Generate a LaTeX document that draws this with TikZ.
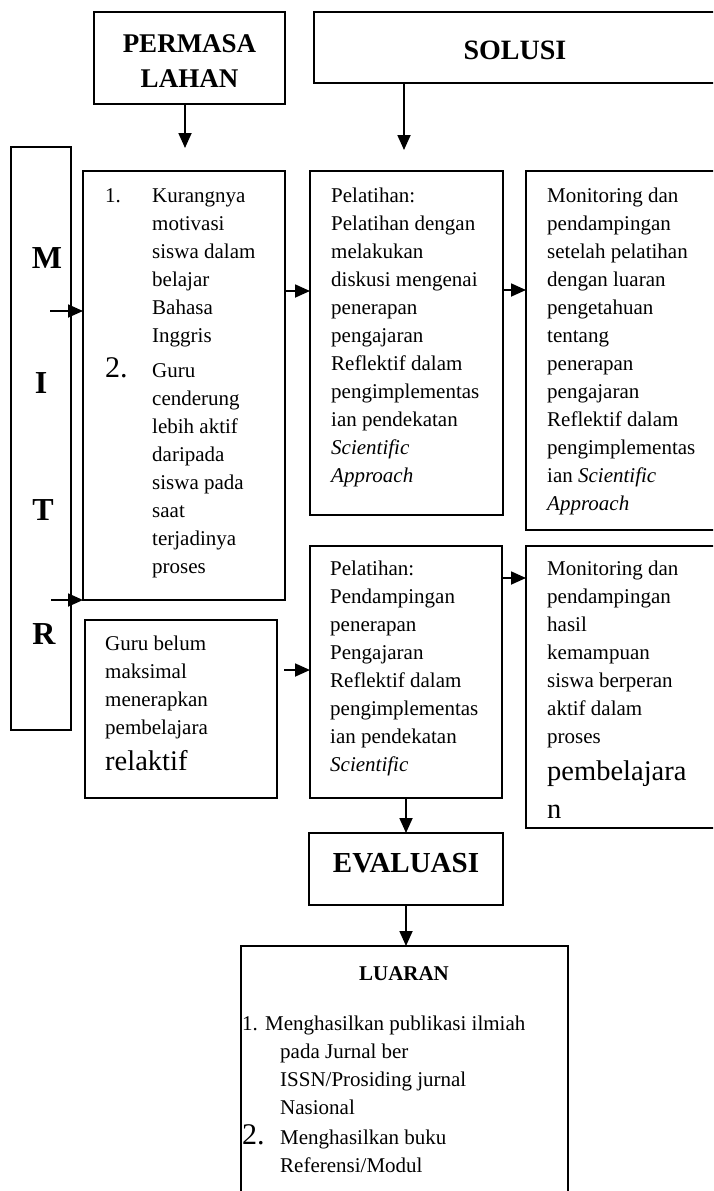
\documentclass[tikz,border=0pt]{standalone}
\usepackage{fontspec}
\setmainfont{Liberation Serif}
\usetikzlibrary{arrows.meta}

\newcommand{\lns}[1]{\parbox[t]{320pt}{\fontsize{21}{28}\selectfont #1}}
\newcommand{\bigsz}{\fontsize{28.5}{28}\selectfont}

\tikzset{
  kotak/.style={draw, line width=1.4pt, inner sep=0pt, outer sep=0pt, anchor=north west},
  panah/.style={-{Triangle[length=15pt,width=13pt]}, line width=1.8pt},
  teks/.style={anchor=base west, inner sep=0pt},
  judul/.style={anchor=base, inner sep=0pt, font=\bfseries\fontsize{28}{35}\selectfont},
}

\begin{document}
\begin{tikzpicture}[x=1pt,y=-1pt]
    \useasboundingbox (0,0) rectangle (713,1191);
    \clip (0,0) rectangle (713,1191);

    % judul
    \node[kotak, minimum width=191pt, minimum height=92pt] (perm) at (94,12) {};
    \node[kotak, minimum width=402pt, minimum height=71pt] (solusi) at (314,12) {};
    \node[judul] (tperm) at (189.5,52)
    {\parbox[t]{190pt}{\centering\bfseries\fontsize{27}{35}\selectfont PERMASA\\LAHAN}};
    \node[judul] (tsolusi) at (515,59) {SOLUSI};
    \coordinate (ujung1) at (185,148);
    \coordinate (ujung2) at (404,150);
    \draw[panah] (perm.south -| ujung1) -- (ujung1);
    \draw[panah] (solusi.south -| ujung2) -- (ujung2);

    % mitra
    \node[kotak, minimum width=60pt, minimum height=583pt] (mitra) at (11,147) {};
    \foreach \h/\xx/\yy in {M/47/268, I/41/393, T/43/520, R/44/644}
        \node[anchor=base, inner sep=0pt, font=\bfseries\fontsize{32}{32}\selectfont] (h\h) at (\xx,\yy) {\h};

    % permasalahan
    \node[kotak, minimum width=202pt, minimum height=429pt] (masalah1) at (83,171) {};
    \node[teks] (n1) at (105,202) {\fontsize{21}{28}\selectfont 1.};
    \node[teks] (tm1) at (152,202) {\lns{Kurangnya\\motivasi\\siswa dalam\\belajar\\Bahasa\\Inggris}};
    \node[teks] (n2) at (105,377) {\fontsize{30}{30}\selectfont 2.};
    \node[teks] (tm2) at (152,377) {\lns{Guru\\cenderung\\lebih aktif\\daripada\\siswa pada\\saat\\terjadinya\\proses}};

    \node[kotak, minimum width=192pt, minimum height=178pt] (masalah2) at (85,620) {};
    \node[teks] (tm3) at (105,650) {\lns{Guru belum\\maksimal\\menerapkan\\pembelajara\\[8pt]\bigsz relaktif}};

    % solusi
    \node[kotak, minimum width=193pt, minimum height=344pt] (latih1) at (310,171) {};
    \node[teks] (tl1) at (331,202) {\lns{Pelatihan:\\Pelatihan dengan\\melakukan\\diskusi mengenai\\penerapan\\pengajaran\\Reflektif dalam\\pengimplementas\\ian pendekatan\\\textit{Scientific}\\\textit{Approach}}};

    \node[kotak, minimum width=190pt, minimum height=359pt] (monitor1) at (526,171) {};
    \node[teks] (tmo1) at (547,202) {\lns{Monitoring dan\\pendampingan\\setelah pelatihan\\dengan luaran\\pengetahuan\\tentang\\penerapan\\pengajaran\\Reflektif dalam\\pengimplementas\\ian \textit{Scientific}\\\textit{Approach}}};

    \node[kotak, minimum width=192pt, minimum height=252pt] (latih2) at (310,546) {};
    \node[teks] (tl2) at (330,575) {\lns{Pelatihan:\\Pendampingan\\penerapan\\Pengajaran\\Reflektif dalam\\pengimplementas\\ian pendekatan\\\textit{Scientific}}};

    \node[kotak, minimum width=190pt, minimum height=282pt] (monitor2) at (526,546) {};
    \node[teks] (tmo2) at (547,575) {\lns{Monitoring dan\\pendampingan\\hasil\\kemampuan\\siswa berperan\\aktif dalam\\proses\\[9pt]\bigsz pembelajara\\[10pt]n}};

    % evaluasi dan luaran
    \node[kotak, minimum width=194pt, minimum height=72pt] (evaluasi) at (309,833) {};
    \node[judul, font=\bfseries\fontsize{29}{29}\selectfont] (tev) at (406,872) {EVALUASI};

    \node[kotak, minimum width=327pt, minimum height=260pt] (luaran) at (241,946) {};
    \node[anchor=base, inner sep=0pt, font=\bfseries\fontsize{21}{21}\selectfont] (tlu) at (404,980) {LUARAN};
    \node[teks] (n3) at (242,1030) {\fontsize{21}{28}\selectfont 1.};
    \node[teks] (tlu1) at (265,1030) {\lns{Menghasilkan publikasi ilmiah}};
    \node[teks] (tlu2) at (280,1058) {\lns{pada Jurnal ber\\ISSN/Prosiding jurnal\\Nasional}};
    \node[teks] (n4) at (242,1144) {\fontsize{30}{30}\selectfont 2.};
    \node[teks] (tlu3) at (280,1144) {\lns{Menghasilkan buku\\Referensi/Modul}};

    % panah
    \coordinate (m1) at (50,311);
    \coordinate (m2) at (51,600);
    \coordinate (m3) at (284,670);
    \draw[panah] (m1) -- (m1 -| masalah1.west);
    \draw[panah] (m2) -- (m2 -| masalah1.west);
    \draw[panah] (masalah1.east |- 0,291) -- (latih1.west |- 0,291);
    \draw[panah] (latih1.east |- 0,290) -- (monitor1.west |- 0,290);
    \draw[panah] (m3) -- (m3 -| latih2.west);
    \draw[panah] (latih2.east |- 0,578) -- (monitor2.west |- 0,578);
    \draw[panah] (latih2.south) -- (evaluasi.north);
    \draw[panah] (evaluasi.south) -- (luaran.north -| evaluasi.south);
\end{tikzpicture}
\end{document}
